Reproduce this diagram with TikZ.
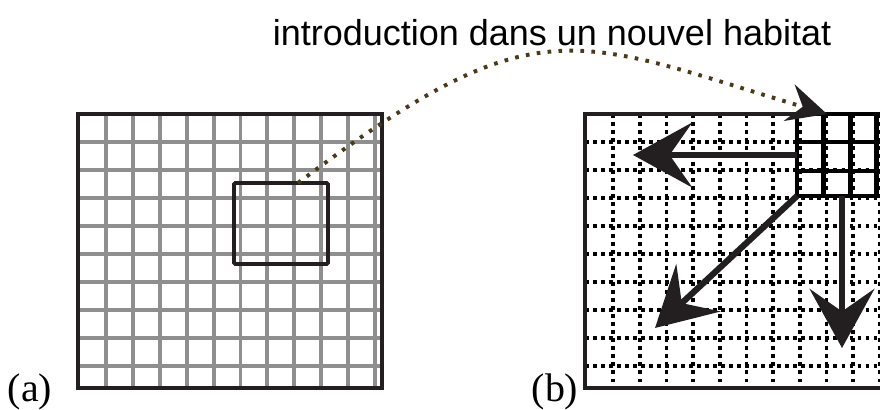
\documentclass[tikz,border=0pt]{standalone}
\usepackage{fontspec}
\setmainfont{Liberation Serif}
\newfontfamily\titlefont{Liberation Sans}
\usetikzlibrary{arrows.meta}
\definecolor{hbGray}{HTML}{8F8F8F}
\definecolor{hbBlack}{HTML}{231F20}
\definecolor{hbBrown}{HTML}{4A3A1A}

\begin{document}
\begin{tikzpicture}[x=0.025cm, y=-0.025cm,
    frame/.style={draw=hbBlack, line width=3pt},
    fine/.style={hbGray, line width=2.8pt},
    dotgrid/.style={black, line width=2.6pt, dash pattern=on 2.6pt off 3.1pt},
    bold/.style={black, line width=3.4pt},
    spread/.style={-{Stealth[length=42pt, width=46pt, inset=16pt]}, hbBlack, line width=4.4pt},
    jump/.style={-{Stealth[length=28pt, width=27pt, inset=10pt, color=hbBlack]}, hbBrown,
                 line width=2.8pt, dash pattern=on 2.6pt off 5.2pt},
    lbl/.style={font=\fontsize{28.4}{32}\selectfont, anchor=base}
  ]
  \clip (0,0) rectangle (880,409);

  % (a) habitat d'origine
  \foreach \x in {0,...,10} \draw[fine] (106+26.9*\x,114) -- (106+26.9*\x,388);
  \foreach \y in {1,...,9} \draw[fine] (78,114+28*\y) -- (382,114+28*\y);
  \draw[frame] (78,114) rectangle (382,388);
  \draw[hbBlack, line width=2.8pt, rounded corners=1pt] (234,183) rectangle (328,264);
  \coordinate (depart) at (298,183);

  % (b) nouvel habitat
  \foreach \x in {0,...,10} \draw[dotgrid] (613+26.7*\x,114) -- (613+26.7*\x,388);
  \foreach \y in {1,...,9} \draw[dotgrid] (585,114+28*\y) -- (900,114+28*\y);
  \draw[frame] (585,114) rectangle (900,388);
  \foreach \x in {0,...,3} \draw[bold] (797+26.6*\x,114) -- (797+26.6*\x,196);
  \foreach \y in {114,142,171,196} \draw[bold] (797,\y) -- (900,\y);

  \coordinate (arrivee) at (827,114);
  \coordinate (blocW)  at (797,155);
  \coordinate (blocSW) at (797,196);
  \coordinate (blocS)  at (842,196);
  \coordinate (finW)   at (633,155);
  \coordinate (finSW)  at (655,328);
  \coordinate (finS)   at (842,348);

  \draw[spread] (blocW) -- (finW);
  \draw[spread] (blocSW) -- (finSW);
  \draw[spread] (blocS) -- (finS);

  \draw[jump] (depart) .. controls (538,2) and (573,38) .. (arrivee);

  \node[font=\titlefont\fontsize{25.6}{30}\selectfont, anchor=base] (titre) at (552,45)
    {introduction dans un nouvel habitat};
  \node[lbl] (lblA) at (30,401) {(a)};
  \node[lbl] (lblB) at (555,401) {(b)};
\end{tikzpicture}
\end{document}
